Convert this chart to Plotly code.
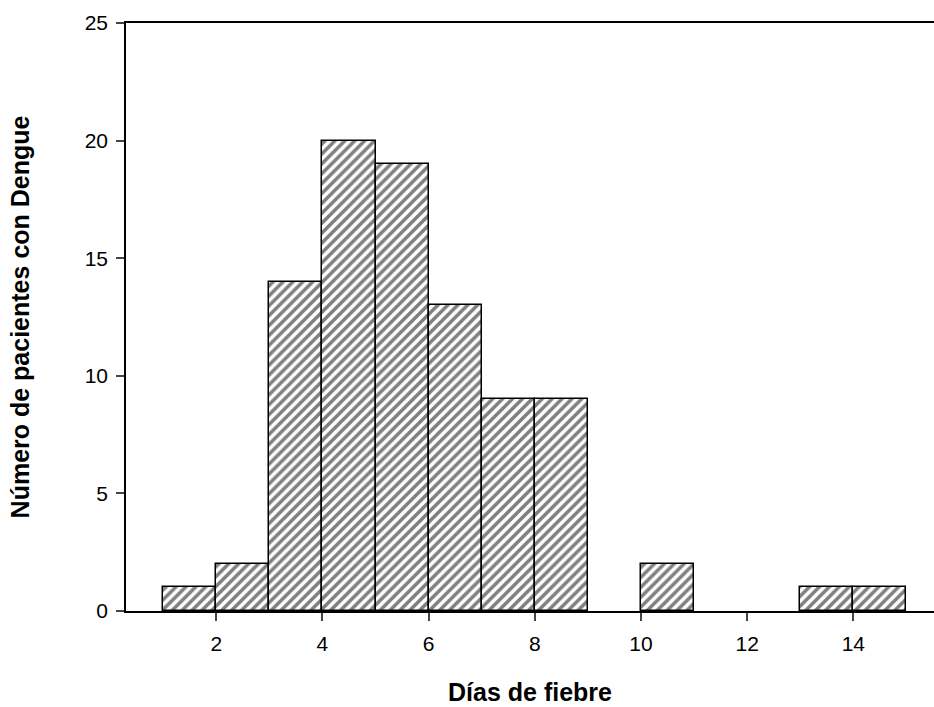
import plotly.graph_objects as go

bin_start = [1, 2, 3, 4, 5, 6, 7, 8, 10, 13, 14]
counts = [1, 2, 14, 20, 19, 13, 9, 9, 2, 1, 1]
x_ticks = [2, 4, 6, 8, 10, 12, 14]
y_ticks = [0, 5, 10, 15, 20, 25]

centers = [b + 0.5 for b in bin_start]

FONT = "Liberation Sans, Arial, sans-serif"

fig = go.Figure()
fig.add_trace(go.Bar(
    x=centers, y=counts, width=1.0,
    marker=dict(color="white", line=dict(color="black", width=1.5),
                pattern=dict(shape="/", size=7, solidity=0.5, fgcolor="black", bgcolor="white")),
    showlegend=False,
))

fig.update_layout(
    width=934, height=707,
    margin=dict(l=126, r=0, t=23, b=96),
    plot_bgcolor="white", paper_bgcolor="white",
    font=dict(family=FONT, size=21, color="black"),
    bargap=0,
)
fig.update_xaxes(
    range=[0.3, 15.52], tickvals=x_ticks, ticks="outside", ticklen=8, tickwidth=1.5,
    tickfont=dict(size=21, family=FONT), ticklabelstandoff=5,
    showline=True, linecolor="black", linewidth=1.5, mirror=True, showgrid=False, zeroline=False,
    automargin=False,
    title=dict(text="<b>Días de fiebre</b>", font=dict(size=25, family=FONT), standoff=30),
)
fig.update_yaxes(
    range=[0, 25], tickvals=y_ticks, ticks="outside", ticklen=8, tickwidth=1.5,
    tickfont=dict(size=21, family=FONT), ticklabelstandoff=4,
    showline=True, linecolor="black", linewidth=1.5, showgrid=False, zeroline=False,
    automargin=False,
    title=dict(text="<b>Número de pacientes con Dengue</b>", font=dict(size=25, family=FONT), standoff=48),
)
fig.write_html("out.html", config={"displayModeBar": False},
               post_script="document.body.style.margin='0px';")
